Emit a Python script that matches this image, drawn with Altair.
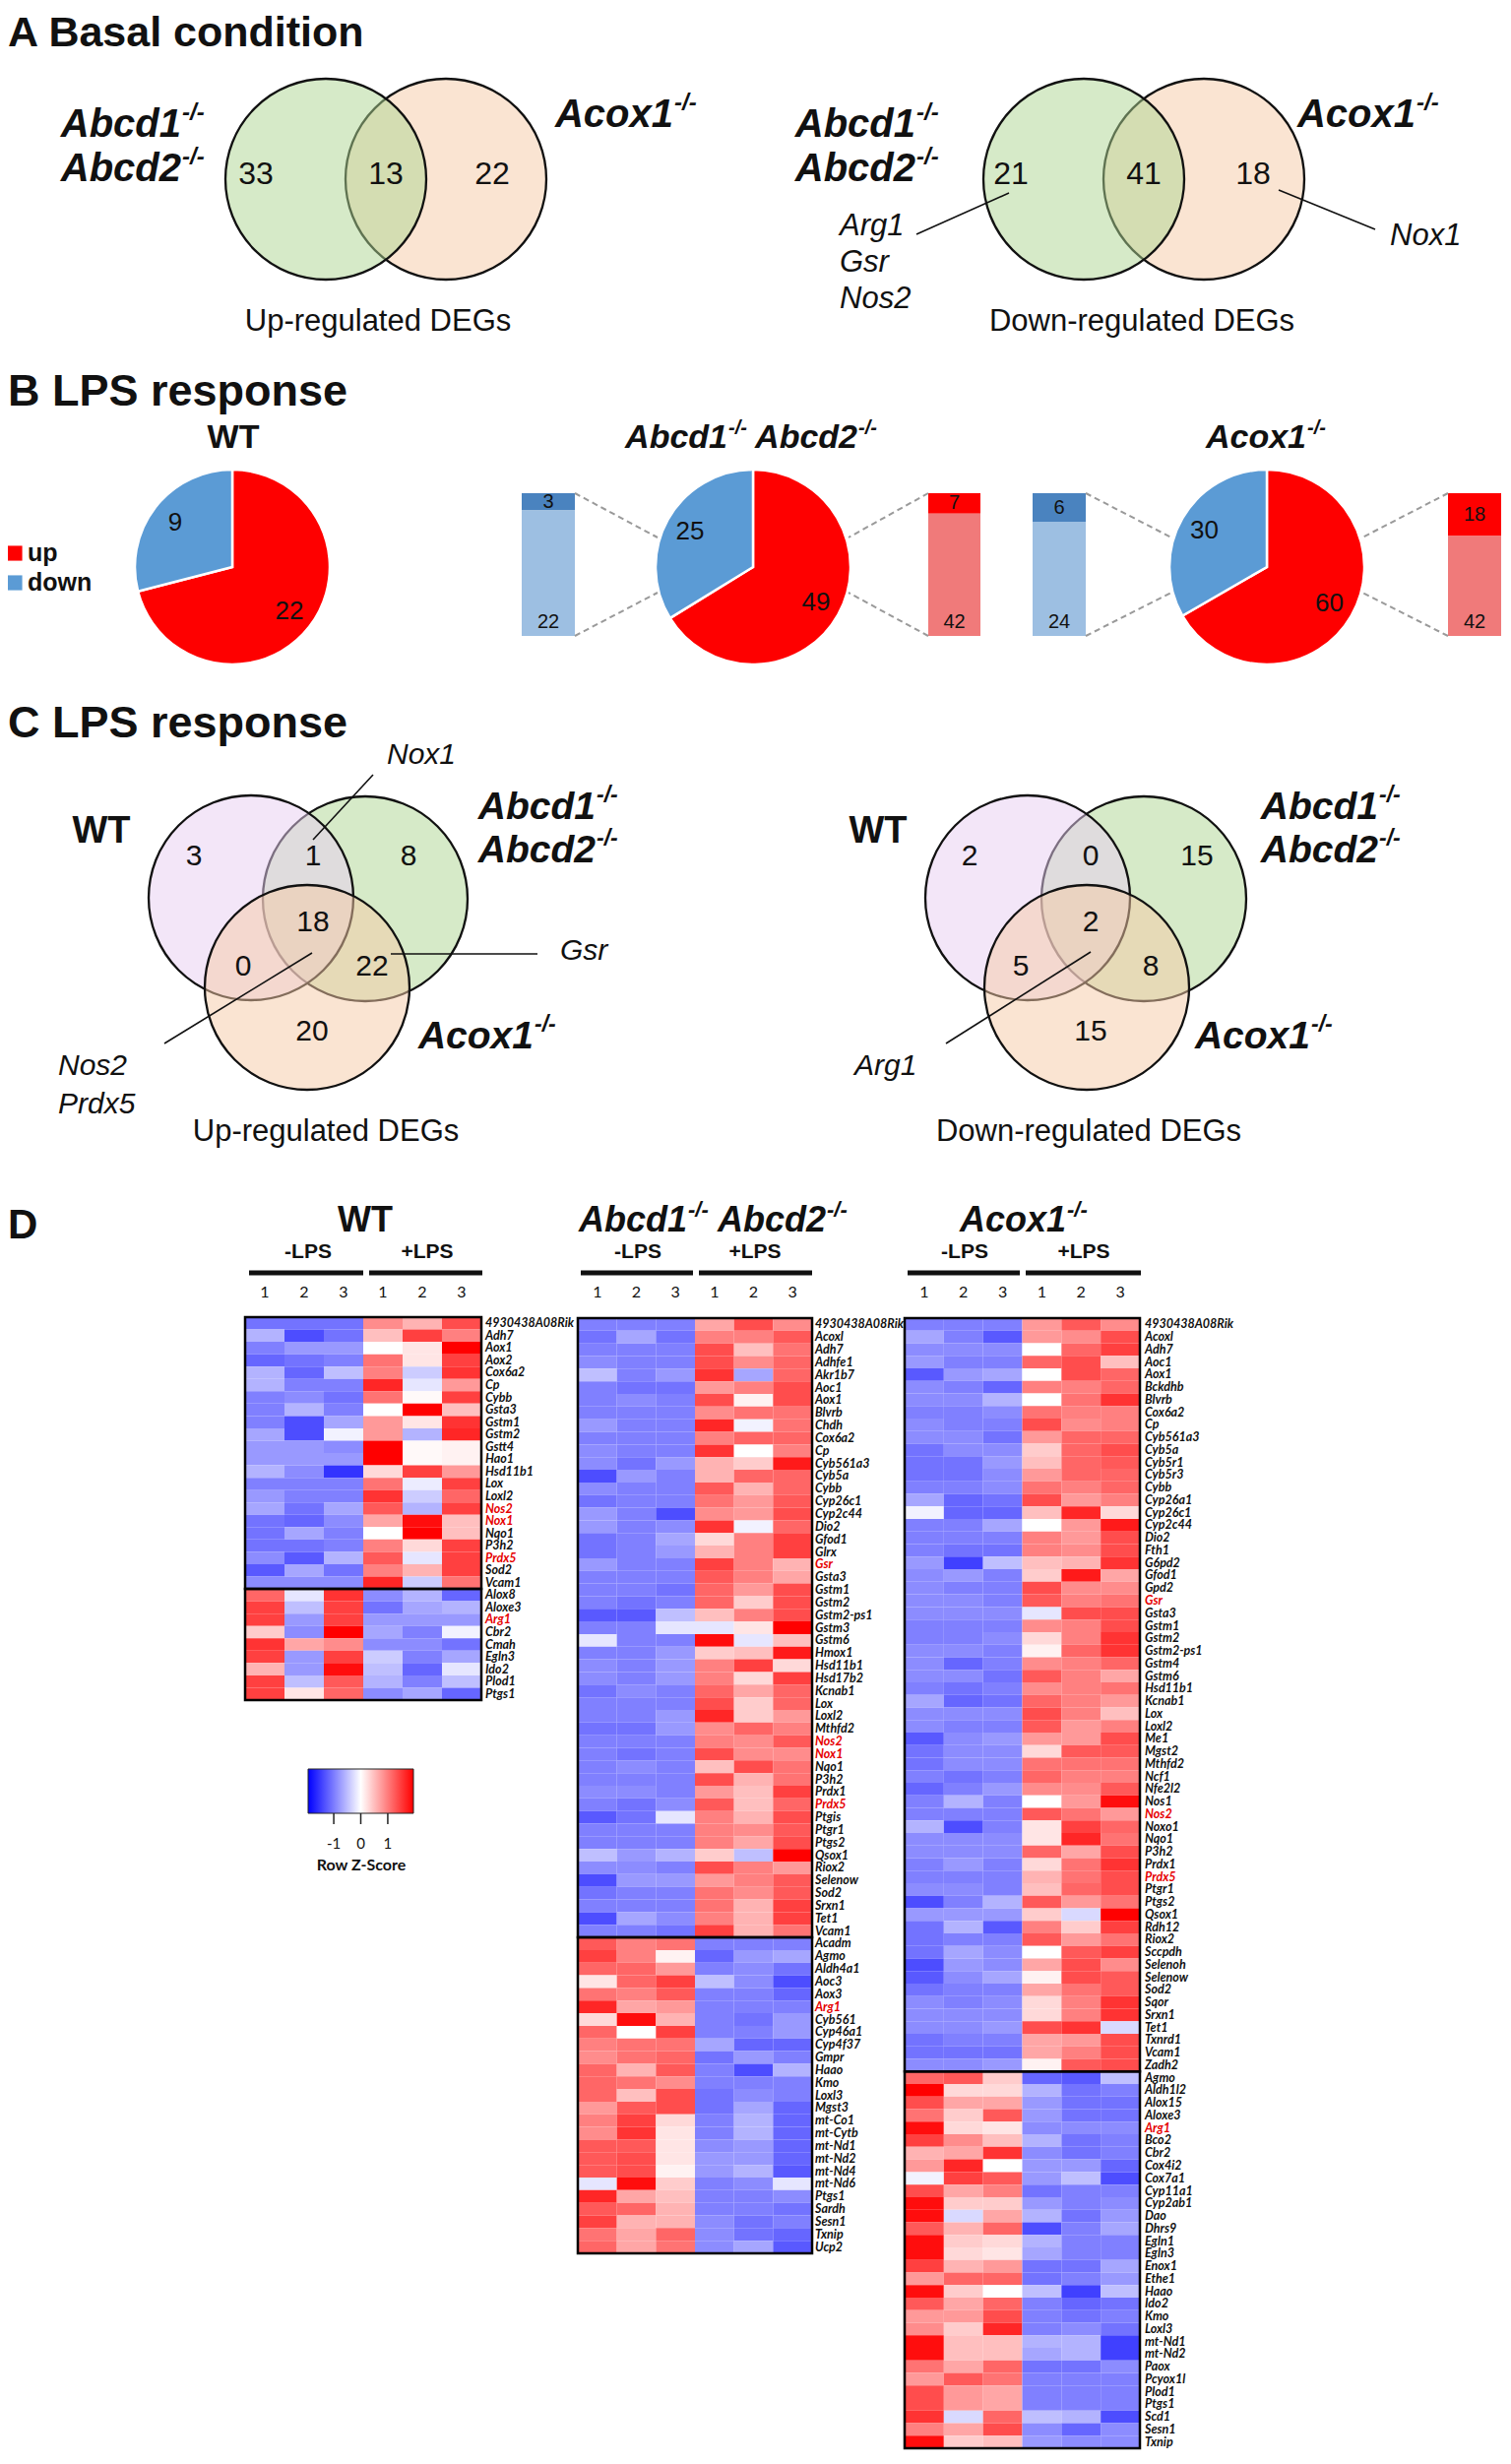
import altair as alt
import pandas as pd

# ============================ DATA ============================
# Panel A - basal condition (Abcd1/2-/- only, shared, Acox1-/- only)
A_UP = [33, 13, 22]
A_DOWN = [21, 41, 18]
A_DOWN_ABCD_GENES = ["Arg1", "Gsr", "Nos2"]
A_DOWN_ACOX_GENES = ["Nox1"]

# Panel B - LPS response (up / down DEGs per genotype)
B_UP = [22, 49, 60]
B_DOWN = [9, 25, 30]
# side bars: [genotype-specific (dark, top), shared with WT (light, bottom)]
B_ABCD_DOWN_SPLIT = [3, 22]
B_ABCD_UP_SPLIT = [7, 42]
B_ACOX_DOWN_SPLIT = [6, 24]
B_ACOX_UP_SPLIT = [18, 42]

# Panel C - three-set Venn regions
C_REGIONS = ["WT", "WT&Abcd", "Abcd", "all", "WT&Acox", "Abcd&Acox", "Acox"]
C_UP = [3, 1, 8, 18, 0, 22, 20]
C_DOWN = [2, 0, 15, 2, 5, 8, 15]

# Panel D - heatmaps (row z-scores; columns -LPS 1,2,3 / +LPS 1,2,3)
SAMPLE_LABELS = ["1", "2", "3", "1", "2", "3"]
RED_GENES = {"Nos2", "Nox1", "Prdx5", "Arg1", "Gsr"}

WT_GENES = ["4930438A08Rik", "Adh7", "Aox1", "Aox2", "Cox6a2", "Cp", "Cybb", "Gsta3", "Gstm1",
            "Gstm2", "Gstt4", "Hao1", "Hsd11b1", "Lox", "Loxl2", "Nos2", "Nox1", "Nqo1", "P3h2",
            "Prdx5", "Sod2", "Vcam1",
            "Alox8", "Aloxe3", "Arg1", "Cbr2", "Cmah", "Egln3", "Ido2", "Plod1", "Ptgs1"]
WT_NUP = 22
WT_Z = [
    [-1.1, -1.1, -1.1, 0.9, 0.6, 1.4], [-0.6, -1.4, -1.1, 0.5, 1.5, 1.0],
    [-1.0, -0.8, -0.8, 0.0, 0.2, 2.0], [-1.2, -1.1, -1.0, 1.1, 0.2, 1.5],
    [-0.6, -1.2, -0.5, 1.0, -0.4, 1.6], [-0.6, -1.0, -1.0, 1.7, -0.2, 0.8],
    [-1.0, -0.9, -1.1, 1.1, 0.05, 1.5], [-1.0, -0.6, -1.0, 0.0, 2.0, 0.5],
    [-1.0, -1.4, -0.7, 0.8, 0.2, 1.6], [-0.7, -1.4, -0.1, 0.8, -0.6, 1.7],
    [-0.8, -0.8, -0.9, 2.0, 0.05, 0.1], [-0.8, -0.8, -0.8, 2.0, 0.05, 0.1],
    [-0.6, -0.9, -1.6, 0.3, 1.5, 0.8], [-1.0, -1.0, -1.0, 1.1, -0.15, 1.5],
    [-0.8, -1.0, -1.0, 1.6, -0.4, 1.2], [-0.7, -1.1, -0.7, 1.3, -0.6, 1.5],
    [-1.1, -1.2, -0.9, 0.7, 1.9, 0.5], [-1.1, -0.7, -1.0, 0.0, 2.0, 0.5],
    [-1.1, -1.1, -1.0, 1.0, 0.3, 1.5], [-0.9, -1.3, -0.6, 1.3, -0.2, 1.5],
    [-1.3, -0.7, -1.1, 1.0, 0.6, 1.5], [-0.9, -0.9, -0.9, 1.7, -0.4, 1.1],
    [1.2, -0.2, 1.6, -0.9, -0.6, -1.2], [1.5, -0.5, 1.5, -1.1, -0.7, -0.6],
    [1.5, -0.8, 1.5, -0.8, -0.8, -0.8], [0.4, -0.9, 2.0, -0.7, -1.0, -0.1],
    [1.6, 0.7, 0.9, -0.9, -0.9, -1.1], [1.5, -0.8, 1.5, -0.4, -1.0, -0.7],
    [0.6, -0.8, 1.9, -0.5, -1.2, -0.2], [1.5, -0.5, 1.3, -0.6, -1.0, -0.5],
    [1.5, 0.2, 1.2, -0.9, -0.7, -1.2],
]

ABCD_GENES = ["4930438A08Rik", "Acoxl", "Adh7", "Adhfe1", "Akr1b7", "Aoc1", "Aox1", "Blvrb", "Chdh",
              "Cox6a2", "Cp", "Cyb561a3", "Cyb5a", "Cybb", "Cyp26c1", "Cyp2c44", "Dio2", "Gfod1",
              "Glrx", "Gsr", "Gsta3", "Gstm1", "Gstm2", "Gstm2-ps1", "Gstm3", "Gstm6", "Hmox1",
              "Hsd11b1", "Hsd17b2", "Kcnab1", "Lox", "Loxl2", "Mthfd2", "Nos2", "Nox1", "Nqo1",
              "P3h2", "Prdx1", "Prdx5", "Ptgis", "Ptgr1", "Ptgs2", "Qsox1", "Riox2", "Selenow",
              "Sod2", "Srxn1", "Tet1", "Vcam1",
              "Acadm", "Agmo", "Aldh4a1", "Aoc3", "Aox3", "Arg1", "Cyb561", "Cyp46a1", "Cyp4f37",
              "Gmpr", "Haao", "Kmo", "Loxl3", "Mgst3", "mt-Co1", "mt-Cytb", "mt-Nd1", "mt-Nd2",
              "mt-Nd4", "mt-Nd6", "Ptgs1", "Sardh", "Sesn1", "Txnip", "Ucp2"]
ABCD_NUP = 49
ABCD_Z = [
    [-1.0, -1.0, -1.0, 0.7, 1.4, 0.9], [-1.1, -0.7, -1.1, 1.0, 1.0, 1.3],
    [-1.0, -1.0, -1.0, 1.4, 0.5, 1.1], [-0.9, -1.0, -1.0, 1.4, 0.9, 1.2],
    [-0.5, -1.0, -0.8, 1.6, -0.7, 1.2], [-1.0, -1.1, -1.1, 0.8, 1.0, 1.4],
    [-1.0, -0.9, -1.0, 1.4, 0.1, 1.4], [-1.0, -1.0, -1.0, 0.9, 1.1, 1.1],
    [-0.8, -1.0, -1.0, 1.7, -0.1, 1.1], [-1.0, -1.0, -1.0, 1.0, 1.2, 1.2],
    [-0.9, -1.0, -1.0, 1.6, 0.0, 1.0], [-0.9, -1.1, -0.8, 0.6, 0.4, 1.8],
    [-1.4, -0.8, -1.0, 0.6, 1.2, 1.2], [-0.9, -1.0, -1.0, 1.3, 0.6, 1.2],
    [-1.1, -1.0, -1.0, 1.1, 0.8, 1.3], [-0.8, -1.0, -1.4, 0.9, 0.8, 1.4],
    [-0.8, -1.0, -0.9, 1.6, -0.1, 1.2], [-1.1, -1.0, -0.7, 0.3, 1.0, 1.5],
    [-1.1, -1.0, -0.8, 0.6, 1.0, 1.5], [-0.8, -1.0, -1.0, 1.5, 1.0, 0.6],
    [-1.0, -1.0, -1.0, 1.3, 1.0, 0.7], [-1.0, -1.0, -1.1, 1.2, 0.8, 1.4],
    [-1.0, -1.1, -1.0, 1.2, 0.4, 1.4], [-1.3, -1.3, -0.5, 0.5, 1.0, 1.4],
    [-1.0, -1.0, -0.2, -0.2, 0.2, 2.0], [-0.2, -1.0, -1.0, 1.9, -0.2, 0.5],
    [-1.0, -1.0, -0.8, 0.4, 0.5, 1.8], [-0.9, -1.0, -0.8, 1.0, 1.5, 0.3],
    [-0.9, -1.0, -0.8, 1.0, 0.3, 1.5], [-1.1, -0.9, -1.0, 1.2, 0.7, 1.2],
    [-1.0, -1.0, -1.0, 1.4, 0.4, 1.2], [-1.0, -1.0, -0.8, 1.7, 0.4, 0.8],
    [-1.1, -1.1, -0.8, 0.9, 1.2, 1.0], [-1.0, -1.0, -1.0, 1.0, 0.9, 1.3],
    [-1.0, -1.1, -1.0, 1.4, 0.9, 0.9], [-1.0, -0.9, -1.0, 0.5, 1.4, 1.1],
    [-1.0, -1.0, -1.0, 1.4, 0.6, 1.1], [-0.9, -0.9, -1.0, 0.8, 0.5, 1.5],
    [-1.0, -1.1, -0.9, 1.3, 0.5, 1.2], [-1.3, -1.1, -0.2, 1.0, 0.6, 1.4],
    [-1.0, -1.0, -1.0, 1.0, 0.9, 1.3], [-1.0, -1.0, -1.0, 1.0, 0.7, 1.4],
    [-0.5, -0.8, -0.6, 0.4, -0.5, 2.0], [-0.9, -0.9, -1.0, 1.4, 1.0, 0.8],
    [-1.4, -0.8, -0.8, 0.8, 1.0, 1.3], [-1.1, -1.0, -1.0, 1.1, 0.9, 1.3],
    [-1.0, -1.0, -1.0, 1.1, 0.6, 1.5], [-1.4, -0.7, -0.9, 1.0, 0.6, 1.5],
    [-1.0, -1.0, -1.1, 1.5, 0.6, 1.1],
    [1.3, 1.0, 1.1, -1.0, -1.0, -1.0], [1.5, 1.0, 0.1, -1.2, -0.8, -0.7],
    [1.2, 1.2, 0.8, -1.0, -0.9, -1.1], [0.2, 1.2, 1.5, -0.5, -0.9, -1.4],
    [1.1, 1.0, 1.3, -1.0, -1.0, -1.2], [1.7, 0.7, 0.8, -1.0, -1.0, -1.0],
    [0.3, 1.9, 0.6, -1.0, -1.1, -0.8], [1.2, 0.0, 1.5, -1.0, -1.0, -0.8],
    [1.0, 1.1, 1.1, -0.7, -1.2, -1.2], [0.9, 1.1, 1.2, -1.1, -0.8, -1.0],
    [1.2, 0.6, 1.3, -1.0, -1.4, -0.6], [1.2, 1.1, 0.9, -1.0, -1.0, -1.0],
    [1.2, 0.5, 1.4, -1.1, -0.9, -1.0], [0.8, 1.3, 1.4, -1.1, -0.7, -1.2],
    [1.0, 1.5, 0.3, -1.0, -0.6, -1.2], [0.9, 1.6, 0.2, -1.0, -0.6, -1.2],
    [1.3, 1.3, 0.2, -0.9, -0.8, -1.2], [1.3, 1.4, 0.2, -0.8, -0.8, -1.2],
    [1.3, 1.4, 0.1, -0.8, -0.6, -1.3], [-0.2, 1.9, 0.4, -1.0, -0.9, -0.2],
    [1.7, 0.7, 0.5, -1.0, -1.0, -0.9], [1.3, 1.2, 0.6, -1.0, -1.0, -1.1],
    [1.5, 0.6, 0.6, -0.9, -1.1, -1.0], [1.1, 0.7, 1.2, -0.9, -1.1, -1.2],
    [1.2, 0.7, 1.1, -0.9, -0.7, -1.3],
]

ACOX_GENES = ["4930438A08Rik", "Acoxl", "Adh7", "Aoc1", "Aox1", "Bckdhb", "Blvrb", "Cox6a2", "Cp",
              "Cyb561a3", "Cyb5a", "Cyb5r1", "Cyb5r3", "Cybb", "Cyp26a1", "Cyp26c1", "Cyp2c44",
              "Dio2", "Fth1", "G6pd2", "Gfod1", "Gpd2", "Gsr", "Gsta3", "Gstm1", "Gstm2",
              "Gstm2-ps1", "Gstm4", "Gstm6", "Hsd11b1", "Kcnab1", "Lox", "Loxl2", "Me1", "Mgst2",
              "Mthfd2", "Ncf1", "Nfe2l2", "Nos1", "Nos2", "Noxo1", "Nqo1", "P3h2", "Prdx1",
              "Prdx5", "Ptgr1", "Ptgs2", "Qsox1", "Rdh12", "Riox2", "Sccpdh", "Selenoh",
              "Selenow", "Sod2", "Sqor", "Srxn1", "Tet1", "Txnrd1", "Vcam1", "Zadh2",
              "Agmo", "Aldh1l2", "Alox15", "Aloxe3", "Arg1", "Bco2", "Cbr2", "Cox4i2", "Cox7a1",
              "Cyp11a1", "Cyp2ab1", "Dao", "Dhrs9", "Egln1", "Egln3", "Enox1", "Ethe1", "Haao",
              "Ido2", "Kmo", "Loxl3", "mt-Nd1", "mt-Nd2", "Paox", "Pcyox1l", "Plod1", "Ptgs1",
              "Scd1", "Sesn1", "Txnip"]
ACOX_NUP = 60
ACOX_Z = [
    [-1.0, -1.0, -1.0, 0.8, 1.3, 0.9], [-0.7, -1.0, -1.3, 0.8, 0.9, 1.4],
    [-0.9, -0.9, -0.9, 0.0, 1.2, 1.5], [-0.8, -1.0, -1.0, 1.2, 1.4, 0.5],
    [-1.3, -0.8, -0.7, 0.0, 1.4, 1.2], [-0.9, -1.0, -1.2, 1.0, 1.0, 1.2],
    [-0.9, -0.9, -0.6, 0.0, 1.1, 1.6], [-1.0, -1.0, -0.9, 1.1, 1.0, 1.0],
    [-0.9, -1.0, -1.0, 1.4, 0.9, 1.0], [-0.9, -0.9, -1.1, 0.8, 1.2, 1.2],
    [-1.1, -0.9, -0.9, 0.4, 1.2, 1.4], [-1.1, -1.1, -0.8, 0.5, 1.2, 1.3],
    [-1.1, -1.1, -0.9, 0.8, 1.2, 1.2], [-1.0, -1.0, -0.9, 1.1, 1.0, 1.2],
    [-0.7, -1.2, -1.1, 1.4, 0.8, 1.0], [-0.1, -1.2, -1.2, 0.5, 1.7, 0.3],
    [-1.0, -1.0, -0.7, 0.0, 0.8, 1.8], [-1.0, -1.0, -1.0, 1.0, 0.8, 1.4],
    [-1.0, -1.1, -1.1, 1.0, 0.9, 1.4], [-0.8, -1.5, -0.5, 0.5, 0.6, 1.6],
    [-0.9, -0.8, -1.0, 0.4, 1.8, 0.7], [-0.9, -1.0, -1.0, 1.4, 0.9, 0.9],
    [-0.9, -0.9, -1.0, 1.3, 1.0, 1.1], [-0.9, -0.9, -0.9, -0.2, 1.4, 1.4],
    [-1.0, -1.0, -1.0, 0.9, 1.0, 1.4], [-1.0, -1.0, -0.9, 0.3, 1.0, 1.6],
    [-0.9, -0.9, -1.0, 0.1, 1.2, 1.6], [-0.9, -1.2, -1.0, 0.9, 1.0, 1.2],
    [-0.9, -0.9, -1.1, 1.3, 1.0, 0.7], [-1.0, -1.1, -1.0, 0.9, 1.0, 1.1],
    [-0.7, -1.2, -1.1, 1.2, 1.0, 0.8], [-0.9, -0.9, -0.9, 1.4, 1.0, 0.5],
    [-0.9, -1.0, -1.0, 1.3, 0.8, 1.0], [-1.3, -0.9, -0.8, 0.8, 0.8, 1.4],
    [-1.1, -0.9, -0.9, 0.3, 1.3, 1.3], [-1.1, -0.9, -0.9, 1.1, 1.1, 1.1],
    [-1.0, -1.1, -1.0, 1.2, 1.0, 1.0], [-1.2, -1.0, -0.8, 0.9, 0.9, 1.3],
    [-1.0, -0.6, -1.0, 0.0, 0.8, 1.9], [-1.0, -1.0, -1.0, 1.3, 1.1, 0.8],
    [-0.6, -1.4, -1.0, 0.2, 1.5, 1.2], [-0.9, -0.9, -0.9, 0.2, 1.7, 1.1],
    [-0.9, -0.9, -0.9, 1.2, 0.7, 1.4], [-1.0, -0.8, -1.0, 0.3, 1.1, 1.6],
    [-1.0, -1.0, -1.0, 0.6, 1.1, 1.4], [-0.9, -0.9, -1.0, 0.5, 1.2, 1.4],
    [-1.4, -1.0, -0.6, 1.3, 0.8, 1.1], [-0.8, -0.8, -0.8, 0.4, -0.3, 2.0],
    [-1.1, -0.6, -1.3, 1.0, 0.4, 1.5], [-1.1, -1.0, -1.0, 1.3, 0.8, 1.1],
    [-1.1, -0.7, -0.9, 0.0, 1.3, 1.5], [-1.4, -0.8, -0.9, 0.7, 1.4, 0.9],
    [-1.3, -0.9, -0.7, 0.1, 1.4, 1.3], [-1.1, -1.0, -1.0, 0.7, 1.1, 1.3],
    [-0.9, -1.0, -0.9, 0.3, 1.0, 1.6], [-0.9, -0.9, -0.9, 0.3, 1.0, 1.6],
    [-0.9, -0.9, -0.8, 1.4, 1.6, -0.3], [-1.1, -1.0, -1.0, 0.7, 0.8, 1.4],
    [-1.1, -1.1, -1.1, 0.7, 1.0, 1.4], [-0.9, -0.9, -0.8, 0.1, 1.3, 1.4],
    [1.2, 1.3, 0.4, -1.2, -1.3, -0.5], [2.0, 0.3, 0.3, -0.6, -1.1, -1.0],
    [1.4, 0.7, 0.7, -0.8, -1.1, -1.1], [1.1, 0.4, 1.3, -0.8, -1.1, -1.1],
    [1.9, 0.3, 0.2, -0.9, -0.9, -0.9], [1.5, 0.9, 0.5, -0.6, -1.1, -1.0],
    [0.6, 0.7, 1.6, -0.9, -1.1, -1.0], [0.8, 1.7, 0.0, -0.8, -0.8, -1.2],
    [-0.1, 1.5, 1.3, -0.8, -0.5, -1.4], [1.4, 0.7, 1.0, -1.1, -1.0, -1.0],
    [1.9, 0.4, 0.4, -0.8, -1.0, -0.9], [1.9, -0.3, 0.7, -0.6, -1.1, -0.8],
    [1.3, 0.6, 1.2, -1.4, -1.0, -0.7], [1.9, 0.4, 0.3, -0.6, -1.0, -1.0],
    [1.9, 0.3, 0.2, -0.7, -1.0, -1.0], [1.5, 0.6, 0.8, -1.1, -1.1, -0.7],
    [0.8, 1.2, 1.2, -1.1, -1.0, -0.8], [1.9, 0.4, 0.0, -0.5, -1.5, -0.5],
    [1.3, 0.7, 1.2, -1.0, -1.2, -1.1], [0.8, 0.8, 1.4, -1.0, -1.1, -1.0],
    [0.9, 0.4, 1.7, -1.0, -0.9, -1.1], [1.9, 0.5, 0.5, -0.6, -0.6, -1.5],
    [1.9, 0.5, 0.5, -0.7, -0.6, -1.5], [1.1, 0.7, 1.2, -1.1, -1.1, -0.9],
    [0.8, 1.3, 1.1, -1.0, -1.0, -1.0], [1.4, 0.8, 0.7, -1.0, -1.0, -1.0],
    [1.4, 0.8, 0.7, -1.0, -1.0, -1.0], [1.6, -0.3, 1.2, -0.5, -0.6, -1.4],
    [1.0, 0.7, 1.4, -0.9, -1.2, -0.9], [1.9, 0.4, 0.5, -0.8, -0.9, -0.9],
]
COLORBAR_TICKS = [-1, 0, 1]

# ============================ STYLE / LAYOUT ============================
SANS = "Liberation Sans"
LBL = "Lato"
INK = "#111111"
GENE_RED = "#e60000"
PIE_RED = "#fe0000"
PIE_BLUE = "#5b9bd5"
BLUE_DARK = "#4a83bf"
BLUE_LIGHT = "#9dbfe2"
RED_DARK = "#fe0000"
RED_LIGHT = "#f07a7a"
# venn fills are drawn at 50 % opacity, in order, over each other's outlines
GREEN = "#add591"
PEACH = "#f5c9a5"
LAV = "#e7cdf1"
OFF = 8  # page margin: reference pixel -> plot pixel


def P(v):
    return v - OFF


def texts(rows, weight="normal", style="normal", align="center", font=SANS):
    df = pd.DataFrame(rows, columns=["x", "y", "t", "s"])
    df["x"] = df["x"] - OFF
    df["y"] = df["y"] - OFF
    return alt.Chart(df).mark_text(font=font, fontWeight=weight, fontStyle=style, align=align,
                                   baseline="middle", color=INK).encode(
        x=alt.X("x:Q", scale=None), y=alt.Y("y:Q", scale=None),
        text=alt.Text("t:N"), size=alt.Size("s:Q", scale=None))


def segs(rows, color=INK, width=1.5, dash=None):
    df = pd.DataFrame(rows, columns=["x", "y", "x2", "y2"]) - OFF
    kw = dict(color=color, strokeWidth=width)
    if dash:
        kw["strokeDash"] = dash
    return alt.Chart(df).mark_rule(**kw).encode(
        x=alt.X("x:Q", scale=None), y=alt.Y("y:Q", scale=None), x2="x2:Q", y2="y2:Q")


def venn(centers, colors, r):
    """circles drawn in list order: each fill (semi-transparent) then its outline"""
    out = []
    size = 4 * r * r
    for (cx, cy), col in zip(centers, colors):
        df = pd.DataFrame({"x": [P(cx)], "y": [P(cy)], "f": [col]})
        out.append(alt.Chart(df).mark_point(shape="circle", filled=True, size=size, opacity=0.5,
                                            strokeWidth=0).encode(
            x=alt.X("x:Q", scale=None), y=alt.Y("y:Q", scale=None),
            color=alt.Color("f:N", scale=None)))
        out.append(alt.Chart(df).mark_point(shape="circle", filled=False, size=size, opacity=1,
                                            color=INK, strokeWidth=2.3).encode(
            x=alt.X("x:Q", scale=None), y=alt.Y("y:Q", scale=None)))
    return out


def number_rows(values, positions, size):
    return [(p[0], p[1], str(v), size) for v, p in zip(values, positions)]


def geno(name, xr, y, s, mains, sups):
    mains.append((xr, y, name, s))
    sups.append((xr + 1, y - 0.3 * s, "-/-", round(0.6 * s)))


def pie(up, down, cx, cy, r=99):
    df = pd.DataFrame({"k": ["up", "down"], "n": [up, down], "o": [1, 2], "c": [PIE_RED, PIE_BLUE]})
    base = alt.Chart(df).encode(theta=alt.Theta("n:Q", stack="normalize"), order=alt.Order("o:Q"),
                                x=alt.value(P(cx)), y=alt.value(P(cy)))
    arc = base.mark_arc(radius=r, stroke="white", strokeWidth=2.5).encode(
        color=alt.Color("c:N", scale=None))
    lab = base.mark_text(radius=0.74 * r, font=SANS, fontSize=26, color=INK).encode(text="n:Q")
    return [arc, lab]


def split_bar(vals, dark, light, x0, x1, top=501, bottom=646):
    df = pd.DataFrame({"n": vals, "o": [2, 1], "c": [dark, light]})
    ys = alt.Scale(domain=[0, 1], range=[P(bottom), P(top)])
    base = alt.Chart(df).transform_stack(stack="n", as_=["s0", "s1"], groupby=[], offset="normalize",
                                         sort=[alt.SortField("o", order="ascending")])
    rect = base.mark_rect().encode(x=alt.value(P(x0)), x2=alt.value(P(x1)),
                                   y=alt.Y("s0:Q", scale=ys, axis=None), y2="s1:Q",
                                   color=alt.Color("c:N", scale=None))
    lab = base.transform_calculate(
        pos="datum.o == 2 ? (datum.s0 + datum.s1) / 2 : datum.s0 + 0.095").mark_text(
        font=SANS, fontSize=20, color=INK, baseline="middle").encode(
        x=alt.value(P((x0 + x1) / 2)), y=alt.Y("pos:Q", scale=ys, axis=None), text="n:Q")
    return [rect, lab]


ZSCALE = alt.Scale(domain=[-2, 0, 2], range=["#0000ff", "#ffffff", "#ff0000"], interpolate="rgb", clamp=True)


def heatmap(genes, z, n_up, x0, x1, y0, y1, lx):
    n = len(genes)
    cells = []
    for i, vals in enumerate(z):
        for j, v in enumerate(vals):
            cells.append({"row": i, "col": j, "z": v})
    df = pd.DataFrame(cells)
    xs = alt.Scale(range=[P(x0), P(x1)], paddingInner=0, paddingOuter=0)
    ys = alt.Scale(range=[P(y0), P(y1)], paddingInner=0, paddingOuter=0)
    rect = alt.Chart(df).mark_rect().encode(
        x=alt.X("col:O", scale=xs, axis=None), y=alt.Y("row:O", scale=ys, axis=None),
        color=alt.Color("z:Q", scale=ZSCALE, legend=None))
    ldf = pd.DataFrame({"row": list(range(n)), "gene": genes,
                        "c": [GENE_RED if g in RED_GENES else INK for g in genes]})
    labels = alt.Chart(ldf).mark_text(align="left", baseline="middle", font=LBL, fontWeight="bold",
                                      fontStyle="italic", fontSize=12.5).encode(
        x=alt.value(P(lx)), y=alt.Y("row:O", scale=ys, axis=None), text="gene:N",
        color=alt.Color("c:N", scale=None))
    sdf = pd.DataFrame({"col": list(range(6)), "lab": SAMPLE_LABELS})
    samples = alt.Chart(sdf).mark_text(font=LBL, fontSize=16, color=INK, baseline="middle").encode(
        x=alt.X("col:O", scale=xs, axis=None), y=alt.value(P(1313)), text="lab:N")
    inner = alt.layer(rect, labels, samples).resolve_scale(color="independent")
    bdf = pd.DataFrame({"start": [0, n_up], "end": [n_up, n]})
    outline = alt.Chart(bdf).mark_rect(fillOpacity=0, stroke="black", strokeWidth=2.5).encode(
        x=alt.value(P(x0)), x2=alt.value(P(x1)),
        y=alt.Y("start:Q", scale=alt.Scale(domain=[0, n], range=[P(y0), P(y1)]), axis=None),
        y2="end:Q")
    return [inner, outline]


layers = []

# ---------------- Panel A ----------------
layers += venn([(453, 182), (331, 182)], [PEACH, GREEN], 102)
layers += venn([(1223, 182), (1101, 182)], [PEACH, GREEN], 102)

# ---------------- Panel C ----------------
layers += venn([(371, 913), (255, 912), (312, 1003)], [GREEN, LAV, PEACH], 104)
layers += venn([(1162, 913), (1044, 912), (1104, 1003)], [GREEN, LAV, PEACH], 104)

# ---------------- Panel B pies & bars ----------------
layers += pie(B_UP[0], B_DOWN[0], 236, 576)
layers += pie(B_UP[1], B_DOWN[1], 765, 576)
layers += pie(B_UP[2], B_DOWN[2], 1287, 576)
layers += split_bar(B_ABCD_DOWN_SPLIT, BLUE_DARK, BLUE_LIGHT, 530, 584)
layers += split_bar(B_ABCD_UP_SPLIT, RED_DARK, RED_LIGHT, 943, 996)
layers += split_bar(B_ACOX_DOWN_SPLIT, BLUE_DARK, BLUE_LIGHT, 1049, 1103)
layers += split_bar(B_ACOX_UP_SPLIT, RED_DARK, RED_LIGHT, 1471, 1525)
layers.append(segs([(584, 501, 668, 546), (584, 646, 668, 602),
                    (943, 501, 862, 546), (943, 646, 862, 602),
                    (1103, 501, 1190, 546), (1103, 646, 1190, 602),
                    (1471, 501, 1384, 546), (1471, 646, 1384, 602)],
                   color="#9a9a9a", width=2, dash=[6, 4]))
leg = pd.DataFrame({"x": [P(15), P(15)], "y": [P(562), P(592)], "c": [PIE_RED, PIE_BLUE]})
layers.append(alt.Chart(leg).mark_point(shape="square", filled=True, size=230, opacity=1).encode(
    x=alt.X("x:Q", scale=None), y=alt.Y("y:Q", scale=None), color=alt.Color("c:N", scale=None)))

# ---------------- leader lines ----------------
layers.append(segs([(931, 238, 1025, 196), (1299, 193, 1397, 233),
                    (379, 787, 318, 853), (397, 969, 546, 969),
                    (167, 1060, 317, 968), (961, 1060, 1108, 967)], width=1.6))

# ---------------- Panel D heatmaps ----------------
layers += heatmap(WT_GENES, WT_Z, WT_NUP, 249, 489, 1338, 1727, 493)
layers += heatmap(ABCD_GENES, ABCD_Z, ABCD_NUP, 587, 825, 1339, 2289, 828)
layers += heatmap(ACOX_GENES, ACOX_Z, ACOX_NUP, 919, 1158, 1339, 2487, 1163)
layers.append(segs([(253, 1293, 369, 1293), (375, 1293, 490, 1293),
                    (590, 1293, 704, 1293), (710, 1293, 825, 1293),
                    (922, 1293, 1036, 1293), (1042, 1293, 1159, 1293)], width=5))

# colour bar
cb_scale = alt.Scale(domain=[-1.95, 1.95], range=[P(313), P(420)])
grad = alt.LinearGradient(gradient="linear", x1=0, x2=1, y1=0, y2=0,
                          stops=[alt.GradientStop(color="#0000ff", offset=0),
                                 alt.GradientStop(color="#ffffff", offset=0.5),
                                 alt.GradientStop(color="#ff0000", offset=1)])
cbdf = pd.DataFrame({"lo": [-1.95], "hi": [1.95]})
layers.append(alt.Chart(cbdf).mark_rect(fill=grad, stroke="#222", strokeWidth=1).encode(
    x=alt.X("lo:Q", scale=cb_scale, axis=None), x2="hi:Q",
    y=alt.value(P(1797)), y2=alt.value(P(1842))))
tdf = pd.DataFrame({"t": COLORBAR_TICKS, "lab": [str(t) for t in COLORBAR_TICKS]})
layers.append(alt.Chart(tdf).mark_rule(color="#222", strokeWidth=1.5).encode(
    x=alt.X("t:Q", scale=cb_scale, axis=None), y=alt.value(P(1842)), y2=alt.value(P(1853))))
layers.append(alt.Chart(tdf).mark_text(font=LBL, fontSize=15, color=INK, baseline="middle").encode(
    x=alt.X("t:Q", scale=cb_scale, axis=None), y=alt.value(P(1873)), text="lab:N"))

# ---------------- texts ----------------
bold_left = [(8, 34, "A Basal condition", 43), (8, 398, "B LPS response", 45),
             (8, 735, "C LPS response", 45), (8, 1245, "D", 42),
             (28, 562, "up", 25), (28, 592, "down", 25)]
bold_center = [(237, 445, "WT", 34), (103, 845, "WT", 38), (892, 845, "WT", 38), (371, 1240, "WT", 36),
               (313, 1272, "-LPS", 21), (434, 1272, "+LPS", 21), (648, 1272, "-LPS", 21),
               (767, 1272, "+LPS", 21), (980, 1272, "-LPS", 21), (1101, 1272, "+LPS", 21)]
g_main, g_sup = [], []
for nm, xr, y, s in [("Abcd1", 184, 127, 40), ("Abcd2", 184, 172, 40), ("Acox1", 684, 117, 40),
                     ("Abcd1", 930, 127, 40), ("Abcd2", 930, 172, 40), ("Acox1", 1438, 117, 40),
                     ("Abcd1", 739, 445, 34), ("Abcd2", 871, 445, 34), ("Acox1", 1327, 445, 34),
                     ("Abcd1", 605, 820, 39), ("Abcd2", 605, 864, 39), ("Acox1", 542, 1053, 39),
                     ("Abcd1", 1400, 820, 39), ("Abcd2", 1400, 864, 39), ("Acox1", 1331, 1053, 39),
                     ("Abcd1", 698, 1240, 36), ("Abcd2", 839, 1240, 36), ("Acox1", 1083, 1240, 36)]:
    geno(nm, xr, y, s, g_main, g_sup)

regular_center = []
regular_center += number_rows(A_UP, [(260, 177), (392, 177), (500, 177)], 32)
regular_center += number_rows(A_DOWN, [(1027, 177), (1162, 177), (1273, 177)], 32)
regular_center += number_rows(C_UP, [(197, 870), (318, 870), (415, 870), (318, 937), (247, 982),
                                     (378, 982), (317, 1048)], 30)
regular_center += number_rows(C_DOWN, [(985, 870), (1108, 870), (1216, 870), (1108, 937),
                                       (1037, 982), (1169, 982), (1108, 1048)], 30)
regular_center += [(384, 327, "Up-regulated DEGs", 31), (1160, 327, "Down-regulated DEGs", 31),
                   (331, 1150, "Up-regulated DEGs", 31), (1106, 1150, "Down-regulated DEGs", 31)]

italic_left = [(853, 230 + 37 * i, g, 31) for i, g in enumerate(A_DOWN_ABCD_GENES)]
italic_left += [(1412, 240, A_DOWN_ACOX_GENES[0], 31),
                (393, 767, "Nox1", 30), (569, 966, "Gsr", 30),
                (59, 1083, "Nos2", 30), (59, 1122, "Prdx5", 30), (868, 1083, "Arg1", 30)]

layers.append(texts(bold_left, weight="bold", align="left"))
layers.append(texts(bold_center, weight="bold", align="center"))
layers.append(texts(g_main, weight="bold", style="italic", align="right"))
layers.append(texts(g_sup, weight="bold", style="italic", align="left"))
layers.append(texts(regular_center, align="center"))
layers.append(texts(italic_left, style="italic", align="left"))
layers.append(texts([(367, 1895, "Row Z-Score", 16)], weight="bold", align="center", font=LBL))

chart = alt.layer(*layers).resolve_scale(
    x="independent", y="independent", color="independent", theta="independent", size="independent"
).properties(
    width=1519, height=2487, padding=0, autosize=alt.AutoSizeParams(type="none")
).configure_view(stroke=None)

chart.save("out.html", embed_options={"renderer": "svg", "actions": False})
